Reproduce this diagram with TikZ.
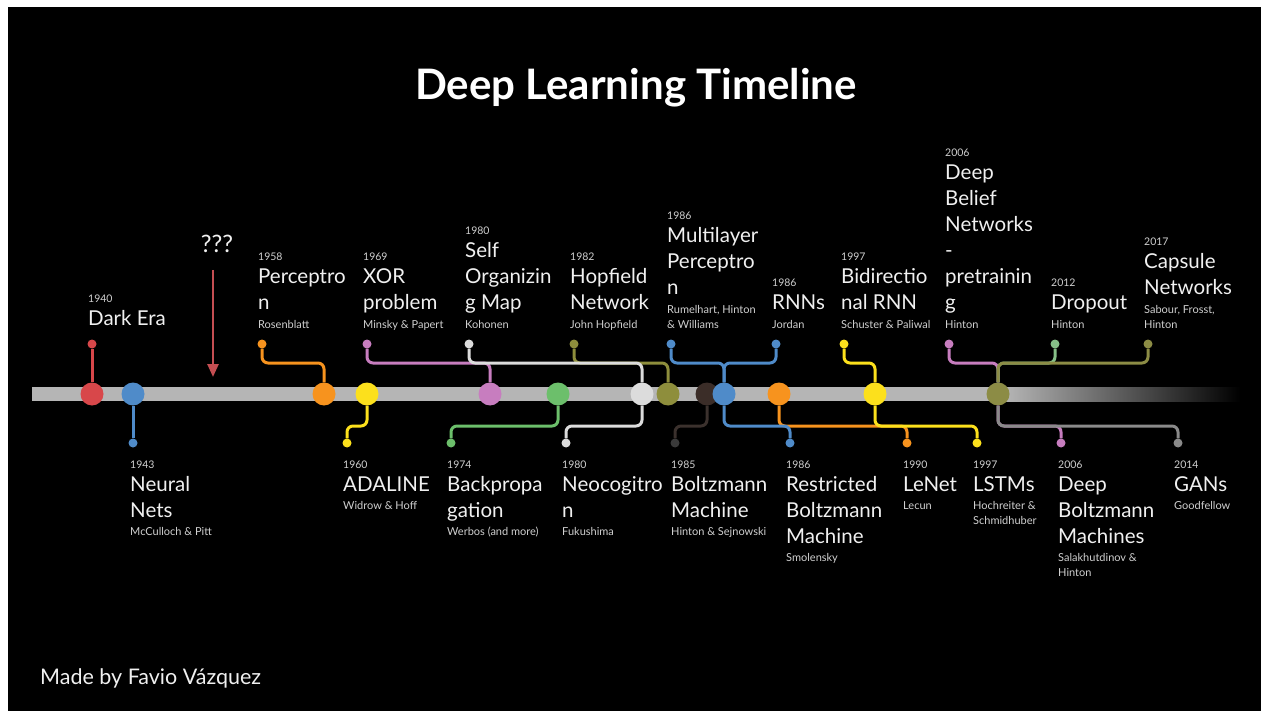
\documentclass[tikz,border=0pt]{standalone}
\usepackage{fontspec}
\setmainfont{Lato}
\usetikzlibrary{arrows.meta}
\definecolor{cRed}{HTML}{D8474A}
\definecolor{cBlue}{HTML}{4F8BC9}
\definecolor{cOrange}{HTML}{F7931E}
\definecolor{cYellow}{HTML}{FCE01C}
\definecolor{cPink}{HTML}{C77DBF}
\definecolor{cGreen}{HTML}{6CBF6B}
\definecolor{cLight}{HTML}{DCDCDC}
\definecolor{cOlive}{HTML}{8E8E3C}
\definecolor{cBrown}{HTML}{3B2D28}
\definecolor{cDark}{HTML}{3A3A3A}
\definecolor{cOliveB}{HTML}{8C8C45}
\definecolor{cGray}{HTML}{8A8A8A}
\definecolor{cSoftGreen}{HTML}{86C088}
\definecolor{cBar}{HTML}{B5B5B5}
\definecolor{cArrow}{HTML}{C44E52}
\definecolor{cText}{HTML}{F0F0F0}
\definecolor{cSub}{HTML}{D0D0D0}
\tikzset{
  yr/.style={text=cSub, font=\fontsize{10.5}{12}\selectfont, inner sep=0pt, anchor=base west},
  mn/.style={text=cText, font=\fontsize{20.5}{26}\selectfont, inner sep=0pt, anchor=base west},
  au/.style={text=cSub, font=\fontsize{11}{15}\selectfont, inner sep=0pt, anchor=base west},
  big/.style={circle, inner sep=0pt, minimum size=23pt, fill=#1},
  dot/.style={circle, inner sep=0pt, minimum size=9pt, fill=#1},
  wire/.style={draw=#1, line width=3pt, rounded corners=6pt},
}
\newcommand\evt[7]{%
  \node[yr] (#1y) at (#2,#3) {#4};
  \foreach \t [count=\i] in {#5} {\node[mn] (#1m\i) at (#2,#3+23+26*\i-26) {\t};}
  \foreach \t [count=\i] in {#7} {\node[au] (#1a\i) at (#2,#6+15*\i-15) {\t};}
}
\begin{document}
\begin{tikzpicture}[x=1pt,y=-1pt]
\useasboundingbox (0,0) rectangle (1261,711);
\fill[white] (0,0) rectangle (1261,711);
\fill[black] (8,7) rectangle (1261,711);

% title and footer
\node[text=white, font=\bfseries\fontsize{42}{48}\selectfont, inner sep=0pt, anchor=base] (title) at (636,100) {Deep Learning Timeline};
\node[text=cText, font=\fontsize{21.5}{26}\selectfont, inner sep=0pt, anchor=base west] (foot) at (40,684) {Made by Favio Vázquez};

% bar
\fill[cBar] (32,387) rectangle (1006,401);
\shade[left color=cBar, right color=black] (1005,387) rectangle (1240,401);

% ??? and arrow
\node[text=cText, font=\fontsize{24}{28}\selectfont, inner sep=0pt, anchor=base] (q) at (217,253) {???};
\coordinate (qs) at (213,270);
\coordinate (qe) at (213,377);
\draw[cArrow, line width=2.5pt, -{Triangle[length=13pt,width=11pt]}] (qs) -- (qe);

% big circles
\node[big=cRed] (c40) at (92,394) {};
\node[big=cBlue] (c43) at (133,394) {};
\node[big=cOrange] (c58) at (324,394) {};
\node[big=cYellow] (c60) at (367,394) {};
\node[big=cPink] (c69) at (490,394) {};
\node[big=cGreen] (c74) at (558,394) {};
\node[big=cLight] (c80) at (642,394) {};
\node[big=cOlive] (c82) at (668,394) {};
\node[big=cBrown] (c85) at (707,394) {};
\node[big=cBlue] (c86) at (724,394) {};
\node[big=cOrange] (c90) at (779,394) {};
\node[big=cYellow] (c97) at (875,394) {};
\node[big=cOliveB] (c06) at (998,394) {};

% top dots
\node[dot=cRed] (d40) at (92,344) {};
\node[dot=cOrange] (d58) at (262,344) {};
\node[dot=cPink] (d69) at (367,344) {};
\node[dot=cLight] (d80a) at (469,344) {};
\node[dot=cOlive] (d82) at (574,344) {};
\node[dot=cBlue] (d86a) at (671,344) {};
\node[dot=cBlue] (d86b) at (776,344) {};
\node[dot=cYellow] (d97a) at (844,344) {};
\node[dot=cPink] (d06a) at (949,344) {};
\node[dot=cSoftGreen] (d12) at (1055,344) {};
\node[dot=cOliveB] (d17) at (1148,344) {};
% bottom dots
\node[dot=cBlue] (d43) at (133,443) {};
\node[dot=cYellow] (d60) at (347,443) {};
\node[dot=cGreen] (d74) at (451,443) {};
\node[dot=cLight] (d80b) at (566,443) {};
\node[dot=cDark] (d85) at (675,443) {};
\node[dot=cBlue] (d86c) at (790,443) {};
\node[dot=cOrange] (d90) at (907,443) {};
\node[dot=cYellow] (d97b) at (977,443) {};
\node[dot=cPink] (d06b) at (1061,443) {};
\node[dot=cGray] (d14) at (1178,443) {};

% wires above
\draw[wire=cRed] (d40) -- (c40);
\draw[wire=cOrange] (d58) -- ++(0,19) -| (c58);
\draw[wire=cPink] (d69) -- ++(0,19) -| (c69);
\draw[wire=cOlive] (d82) -- ++(0,19) -| (c82);
\draw[wire=cLight] (d80a) -- ++(0,19) -| (c80);
\draw[wire=cBlue] (d86a) -- ++(0,19) -| (c86);
\draw[wire=cBlue] (d86b) -- ++(0,19) -| (c86);
\draw[wire=cYellow] (d97a) -- ++(0,19) -| (c97);
\draw[wire=cPink] (d06a) -- ++(0,19) -| (c06);
\draw[wire=cSoftGreen] (d12) -- ++(0,19) -| (c06);
\draw[wire=cOliveB] (d17) -- ++(0,19) -| (c06);
% wires below
\draw[wire=cBlue] (c43) -- (d43);
\draw[wire=cYellow] (c60) -- ++(0,32) -| (d60);
\draw[wire=cGreen] (c74) -- ++(0,32) -| (d74);
\draw[wire=cLight] (c80) -- ++(0,32) -| (d80b);
\draw[wire=cBrown!70!cDark] (c85) -- ++(0,32) -| (d85);
\draw[wire=cOrange] (c90) -- ++(0,32) -| (d90);
\draw[wire=cBlue] (c86) -- ++(0,32) -| (d86c);
\draw[wire=cYellow] (c97) -- ++(0,32) -| (d97b);
\draw[wire=cPink] (c06) -- ++(0,32) -| (d06b);
\draw[wire=cGray] (c06) -- ++(0,32) -| (d14);

% labels above
\node[yr] (e40y) at (88,302) {1940};
\node[mn] (e40m1) at (88,326) {Dark Era};
\evt{e58}{258}{261}{1958}{Perceptro,n}{328}{Rosenblatt}
\evt{e69}{363}{261}{1969}{XOR,problem}{328}{Minsky \& Papert}
\evt{e80a}{465}{235}{1980}{Self,Organizin,g Map}{328}{Kohonen}
\evt{e82}{570}{261}{1982}{Hopfield,Network}{328}{John Hopfield}
\evt{e86a}{667}{220}{1986}{Multilayer,Perceptro,n}{313}{{Rumelhart, Hinton},\& Williams}
\evt{e86b}{772}{287}{1986}{RNNs}{328}{Jordan}
\evt{e97a}{841}{261}{1997}{Bidirectio,nal RNN}{328}{Schuster \& Paliwal}
\evt{e06a}{945}{157}{2006}{Deep,Belief,Networks,-,pretrainin,g}{328}{Hinton}
\evt{e12}{1051}{287}{2012}{Dropout}{328}{Hinton}
\evt{e17}{1144}{246}{2017}{Capsule,Networks}{313}{{Sabour, Frosst,},Hinton}
% labels below
\evt{e43}{130}{468}{1943}{Neural,Nets}{535}{McCulloch \& Pitt}
\evt{e60}{343}{468}{1960}{ADALINE}{509}{Widrow \& Hoff}
\evt{e74}{447}{468}{1974}{Backpropa,gation}{535}{Werbos (and more)}
\evt{e80b}{562}{468}{1980}{Neocogitro,n}{535}{Fukushima}
\evt{e85}{671}{468}{1985}{Boltzmann,Machine}{535}{Hinton \& Sejnowski}
\evt{e86c}{786}{468}{1986}{Restricted,Boltzmann,Machine}{561}{Smolensky}
\evt{e90}{903}{468}{1990}{LeNet}{509}{Lecun}
\evt{e97b}{973}{468}{1997}{LSTMs}{509}{Hochreiter \&,Schmidhuber}
\evt{e06b}{1058}{468}{2006}{Deep,Boltzmann,Machines}{561}{Salakhutdinov \&,Hinton}
\evt{e14}{1174}{468}{2014}{GANs}{509}{Goodfellow}
\end{tikzpicture}
\end{document}
